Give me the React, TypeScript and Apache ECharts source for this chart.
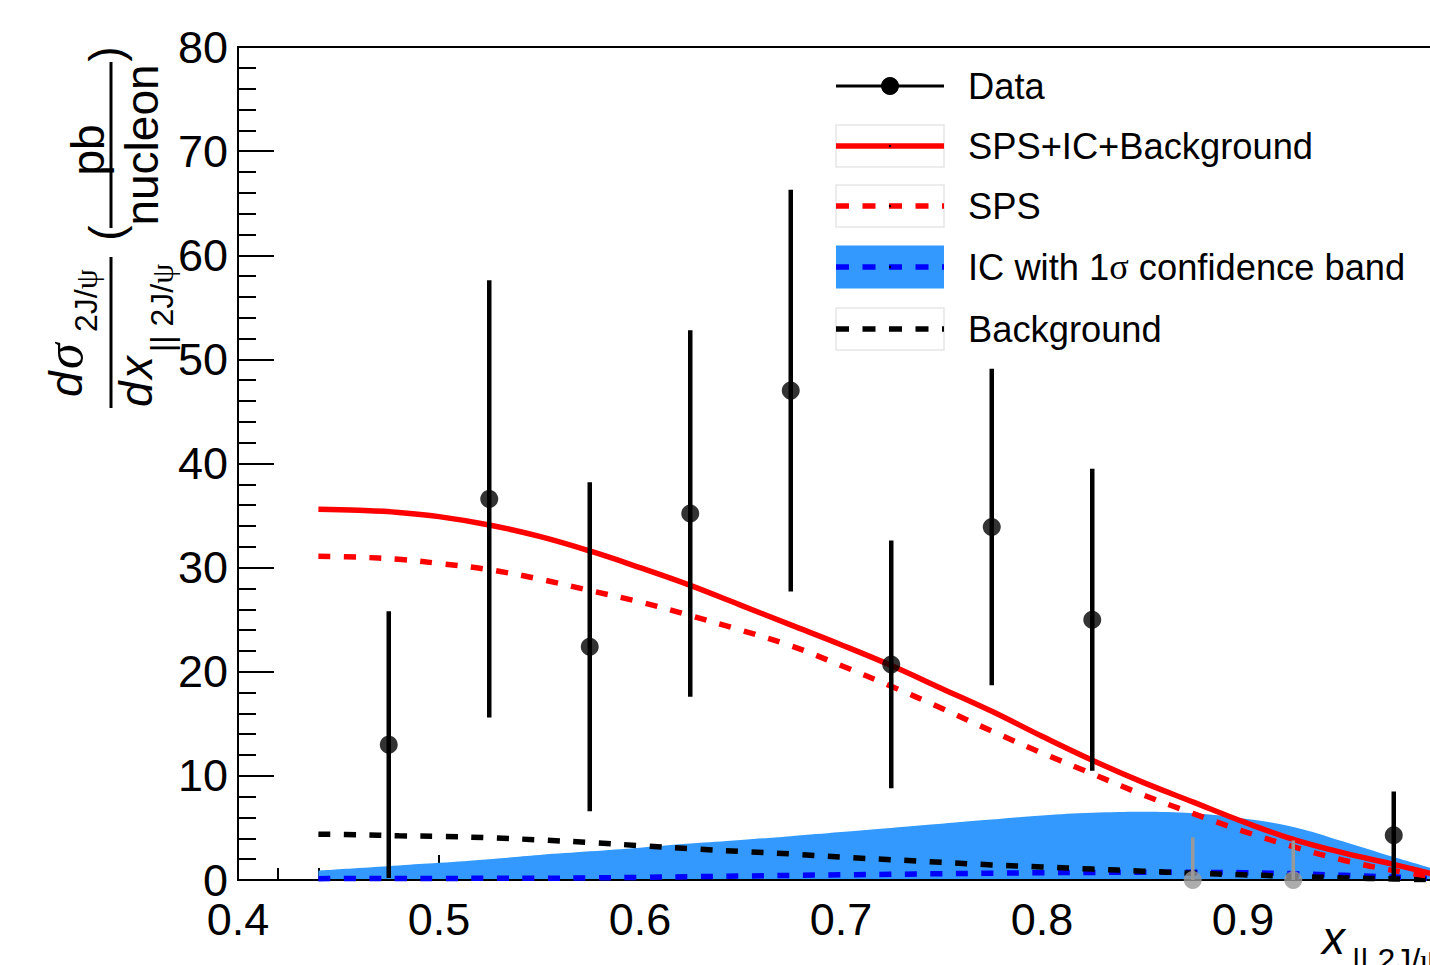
import React, { useEffect, useRef } from "react";
import * as echarts from "echarts";

// ---------- data ----------
const dataX = [0.475, 0.525, 0.575, 0.625, 0.675, 0.725, 0.775, 0.825, 0.975];
const dataY = [13.0, 36.6, 22.4, 35.2, 47.0, 20.7, 33.9, 25.0, 4.3];
const dataErr = [12.8, 21.0, 15.8, 17.6, 19.3, 11.9, 15.2, 14.5, 4.2];

const grayX = [0.875, 0.925];
const grayY = [0, 0];
const grayErrUp = [4.1, 3.8];

const curveX = [0.44, 0.46, 0.48, 0.5, 0.525, 0.55, 0.575, 0.6, 0.625, 0.65, 0.675, 0.7, 0.725, 0.75, 0.775, 0.8, 0.825, 0.85, 0.875, 0.9, 0.925, 0.95, 0.975, 1.0];
const totalY = [35.6, 35.5, 35.3, 34.9, 34.1, 33.0, 31.6, 30.0, 28.3, 26.4, 24.5, 22.6, 20.6, 18.4, 16.2, 13.8, 11.5, 9.4, 7.5, 5.6, 3.9, 2.6, 1.5, 0.3];
const spsY = [31.1, 31.0, 30.8, 30.4, 29.8, 28.9, 27.8, 26.7, 25.4, 24.0, 22.5, 20.6, 18.6, 16.5, 14.3, 12.2, 10.2, 8.2, 6.4, 4.7, 3.2, 1.9, 0.9, 0.2];
const icY = [0.13, 0.14, 0.14, 0.15, 0.16, 0.17, 0.2, 0.25, 0.32, 0.38, 0.44, 0.5, 0.55, 0.6, 0.65, 0.7, 0.73, 0.75, 0.74, 0.7, 0.6, 0.45, 0.28, 0.1];
const icBandUp = [0.9, 1.15, 1.4, 1.65, 2.0, 2.4, 2.75, 3.1, 3.5, 3.85, 4.2, 4.6, 5.0, 5.4, 5.8, 6.2, 6.45, 6.55, 6.4, 5.9, 5.1, 3.7, 2.2, 0.8];
const bkgY = [4.4, 4.35, 4.25, 4.2, 4.05, 3.85, 3.6, 3.3, 3.0, 2.75, 2.5, 2.2, 1.95, 1.7, 1.45, 1.25, 1.05, 0.85, 0.65, 0.5, 0.35, 0.2, 0.1, 0.0];

const xMin = 0.4, xMax = 1.0, xStep = 0.1;
const yMin = 0, yMax = 80, yStep = 10;

const legendLabels = ["Data", "SPS+IC+Background", "SPS", "IC with 1σ confidence band", "Background"];

// ---------- style ----------
const SANS = "'Liberation Sans', Arial, Helvetica, sans-serif";
const SERIF = "'Liberation Serif', 'DejaVu Serif', serif";
const RED = "#ff0000";
const BLUE = "#0000ff";
const BAND = "#3399ff";
const DASH = [12, 13.5];
const LW = 5.5;

function pts(ys: number[]) {
  return curveX.map((x, i) => [x, ys[i]]);
}

function buildOption() {
  const rows = [86, 146, 206, 267, 329];
  const lx0 = 836, lx1 = 944, tx = 968;
  const legend: any[] = [];
  legend.push({ type: "line", shape: { x1: lx0, y1: rows[0], x2: lx1, y2: rows[0] }, style: { stroke: "#000", lineWidth: 3 } });
  legend.push({ type: "circle", shape: { cx: (lx0 + lx1) / 2, cy: rows[0], r: 9 }, style: { fill: "#000" } });
  [1, 2, 4].forEach((i) => {
    legend.push({ type: "rect", shape: { x: lx0, y: rows[i] - 21, width: lx1 - lx0, height: 42 }, style: { fill: "none", stroke: "#e6e6e6", lineWidth: 1.5 } });
  });
  legend.push({ type: "rect", shape: { x: lx0, y: rows[3] - 21.5, width: lx1 - lx0, height: 43 }, style: { fill: BAND } });
  const lineStyles = [
    null,
    { stroke: RED, lineWidth: LW },
    { stroke: RED, lineWidth: LW, lineDash: [13, 13.5] },
    { stroke: BLUE, lineWidth: LW, lineDash: [13, 13.5] },
    { stroke: "#000", lineWidth: LW, lineDash: [13, 13.5] },
  ];
  for (let i = 1; i < 5; i++) {
    legend.push({ type: "line", shape: { x1: lx0, y1: rows[i], x2: lx1, y2: rows[i] }, style: lineStyles[i] });
    legend.push({ type: "circle", shape: { cx: (lx0 + lx1) / 2, cy: rows[i], r: 1.2 }, style: { fill: "#000" } });
  }
  legendLabels.forEach((t, i) => {
    if (t.indexOf("σ") >= 0) {
      const [pre, post] = t.split("σ");
      legend.push({
        type: "text", x: tx, y: rows[i],
        style: {
          text: `{a|${pre}}{s|σ}{a|${post}}`,
          verticalAlign: "middle", align: "left",
          rich: {
            a: { fontSize: 36.3, fontFamily: SANS, fill: "#000" },
            s: { fontSize: 36.3, fontFamily: SERIF, fill: "#000" },
          },
        },
      });
    } else {
      legend.push({ type: "text", x: tx, y: rows[i], style: { text: t, fontSize: 36.3, fontFamily: SANS, fill: "#000", verticalAlign: "middle", align: "left" } });
    }
  });

  // rotated y title, local coords: lx along text (screen up), ly = screen x
  const T = (text: string, x: number, y: number, fs: number, opts: any = {}) => ({
    type: "text", x, y,
    style: { text, fontSize: fs, fontFamily: SANS, fill: "#000", verticalAlign: "middle", align: "left", ...opts },
  });
  const sub = (x: number, y: number, pre: string) => ({
    type: "text", x, y,
    style: { text: `{a|${pre}}{g|ψ}`, verticalAlign: "middle", align: "left", rich: { a: { fontSize: 32, fontFamily: SANS, fill: "#000" }, g: { fontSize: 32, fontFamily: SERIF, fill: "#000" } } },
  });
  const yTitle = {
    type: "group", x: 0, y: 420, rotation: Math.PI / 2,
    children: [
      T("d", 23, 66, 46, { fontStyle: "italic" }),
      T("σ", 51, 64, 52, { fontStyle: "italic", fontFamily: SERIF }),
      sub(88, 86, "2J/"),
      { type: "rect", shape: { x: 12, y: 109.5, width: 151, height: 3 }, style: { fill: "#000" } },
      T("d", 13, 136, 46, { fontStyle: "italic" }),
      T("x", 41, 136, 46, { fontStyle: "italic" }),
      sub(68, 162, "|| 2J/"),
      T("(", 187, 106, 46, { align: "center" }),
      T("pb", 270, 88, 46, { align: "center" }),
      { type: "rect", shape: { x: 192, y: 109.5, width: 166, height: 3 }, style: { fill: "#000" } },
      T("nucleon", 275, 142, 46, { align: "center" }),
      T(")", 366, 106, 46, { align: "center" }),
    ],
  };

  const xTitle = [
    { type: "text", x: 1322, y: 938, style: { text: "x", fontSize: 46, fontStyle: "italic", fontFamily: SANS, fill: "#000", verticalAlign: "middle", align: "left" } },
    {
      type: "text", x: 1352, y: 960,
      style: { text: "{a||| 2J/}{g|ψ}", verticalAlign: "middle", align: "left", rich: { a: { fontSize: 32, fontFamily: SANS, fill: "#000" }, g: { fontSize: 32, fontFamily: SERIF, fill: "#000" } } },
    },
  ];

  const errRender = (color: string, width: number, upOnly: boolean) => (params: any, api: any) => {
    const x = api.value(0), y = api.value(1), e = api.value(2);
    const lo = upOnly ? y : Math.max(yMin, y - e);
    const p1 = api.coord([x, lo]);
    const p2 = api.coord([x, y + e]);
    return { type: "line", shape: { x1: p1[0], y1: p1[1], x2: p2[0], y2: p2[1] }, style: { stroke: color, lineWidth: width } };
  };

  return {
    animation: false,
    backgroundColor: "#fff",
    grid: { left: 238, top: 47, right: 36, bottom: 85, show: true, borderColor: "#000", borderWidth: 2, containLabel: false },
    xAxis: [
      {
        type: "value", min: xMin, max: xMax, interval: xStep, position: "bottom",
        axisLine: { show: true, onZero: false, lineStyle: { color: "#000", width: 2 } },
        axisTick: { show: true, inside: true, length: 25, lineStyle: { color: "#000", width: 2 } },
        minorTick: { show: true, splitNumber: 5, length: 12, lineStyle: { color: "#000", width: 2 } },
        splitLine: { show: false }, minorSplitLine: { show: false },
        axisLabel: {
          fontSize: 45, lineHeight: 34, color: "#000", fontFamily: SANS, margin: 22.5, showMaxLabel: false,
          formatter: (v: number) => (v > 0.95 ? "" : v.toFixed(1)),
        },
      },
      {
        type: "value", min: xMin, max: xMax, position: "bottom", z: 2,
        axisLine: { show: true, onZero: false, lineStyle: { color: "#000", width: 2 } },
        axisTick: { show: false }, axisLabel: { show: false }, splitLine: { show: false },
      },
    ],
    yAxis: {
      type: "value", min: yMin, max: yMax, interval: yStep,
      axisLine: { show: true, lineStyle: { color: "#000", width: 2 } },
      axisTick: { show: true, inside: true, length: 36, lineStyle: { color: "#000", width: 2 } },
      minorTick: { show: true, splitNumber: 5, length: 18, lineStyle: { color: "#000", width: 2 } },
      splitLine: { show: false }, minorSplitLine: { show: false },
      axisLabel: { fontSize: 45, lineHeight: 34, padding: [4, 0, 0, 0], color: "#000", fontFamily: SANS, margin: 10 },
    },
    series: [
      {
        name: "IC band", type: "line", data: pts(icBandUp), smooth: 0.4, showSymbol: false, symbol: "none",
        lineStyle: { width: 0 }, areaStyle: { color: BAND, opacity: 1 }, z: 1, silent: true,
      },
      { name: "IC", type: "line", data: pts(icY), smooth: 0.4, symbol: "none", lineStyle: { color: BLUE, width: LW, type: DASH }, z: 3, silent: true },
      { name: "Background", type: "line", data: pts(bkgY), smooth: 0.4, symbol: "none", lineStyle: { color: "#000", width: LW, type: DASH }, z: 4, silent: true },
      { name: "SPS", type: "line", data: pts(spsY), smooth: 0.4, symbol: "none", lineStyle: { color: RED, width: LW, type: DASH }, z: 5, silent: true },
      { name: "SPS+IC+Background", type: "line", data: pts(totalY), smooth: 0.4, symbol: "none", lineStyle: { color: RED, width: LW }, z: 6, silent: true },
      {
        name: "gray err", type: "custom", z: 7, silent: true,
        data: grayX.map((x, i) => [x, grayY[i], grayErrUp[i]]),
        renderItem: errRender("#999999", 3.5, true),
      },
      {
        name: "gray pts", type: "scatter", z: 8, silent: true, symbol: "circle", symbolSize: 18,
        itemStyle: { color: "#999999" }, data: grayX.map((x, i) => [x, grayY[i]]), clip: false,
      },
      {
        name: "Data err", type: "custom", z: 9, silent: true,
        data: dataX.map((x, i) => [x, dataY[i], dataErr[i]]),
        renderItem: errRender("#000000", 4.5, false),
      },
      {
        name: "Data", type: "scatter", z: 10, silent: true, symbol: "circle", symbolSize: 18,
        itemStyle: { color: "#000" }, data: dataX.map((x, i) => [x, dataY[i]]),
      },
    ],
    graphic: { elements: [...legend, yTitle, ...xTitle] },
  };
}

export default function App() {
  const ref = useRef<HTMLDivElement>(null);
  useEffect(() => {
    if (!ref.current) return;
    const chart = echarts.init(ref.current, null, { renderer: "svg" });
    chart.setOption(buildOption() as any);
    return () => chart.dispose();
  }, []);
  return (
    <div style={{ position: "fixed", left: 0, top: 0, width: 1430, height: 965, overflow: "hidden", background: "#fff" }}>
      <div ref={ref} style={{ width: 1480, height: 965 }} />
    </div>
  );
}
